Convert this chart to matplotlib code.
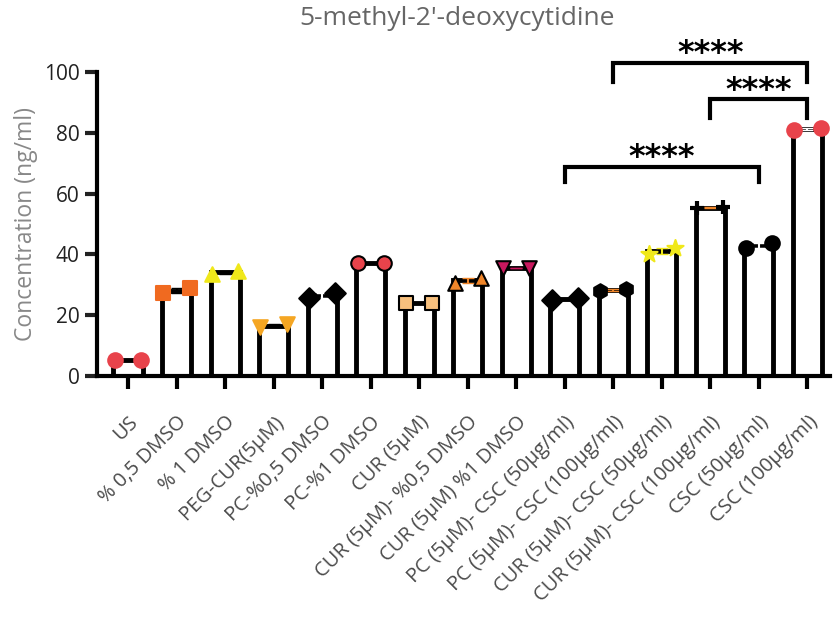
import numpy as np
import matplotlib.pyplot as plt

plt.rcParams['font.family'] = ['Open Sans', 'DejaVu Sans']

# groups and replicate measurements (ng/ml)
groups = ["US", "% 0,5 DMSO", "% 1 DMSO", "PEG-CUR(5µM)", "PC-%0,5 DMSO",
          "PC-%1 DMSO", "CUR (5µM)", "CUR (5µM)- %0,5 DMSO", "CUR (5µM) %1 DMSO",
          "PC (5µM)- CSC (50µg/ml)", "PC (5µM)- CSC (100µg/ml)",
          "CUR (5µM)- CSC (50µg/ml)", "CUR (5µM)- CSC (100µg/ml)",
          "CSC (50µg/ml)", "CSC (100µg/ml)"]
rep1 = [5.2, 27.3, 33.6, 16.2, 25.8, 37.2, 24.0, 30.6, 35.6, 25.0, 28.0, 40.0, 55.2, 42.2, 80.8]
rep2 = [5.2, 28.9, 34.6, 17.0, 27.2, 37.2, 24.0, 32.4, 35.6, 25.6, 28.6, 42.2, 55.6, 43.8, 81.6]

markers = ['o', 's', '^', 'v', 'D', 'o', 's', '^', 'v', 'D', 'h', '*', '+', 'o', 'o']
fills = ['#E8434B', '#F06A20', '#F0E81A', '#F5A623', 'black', '#E8434B', '#F7C07E',
         '#F0862A', '#C8185E', 'black', 'black', '#F0E81A', 'black', 'black', '#E8434B']
edges = ['#E8434B', '#F06A20', '#F0E81A', '#F5A623', 'black', 'black', 'black',
         'black', 'black', 'black', 'black', '#F0E81A', 'black', 'black', '#E8434B']
errc = ['black', 'black', 'black', 'black', 'white', 'black', 'black', '#F0862A',
        '#C8185E', 'black', '#F0862A', '#F0E81A', '#F0862A', 'white', 'white']

# significance brackets: (left group, right group, bar height, drop height, label y)
brackets = [(9, 13, 68.8, 63.8, 72.0), (12, 14, 91.0, 85.0, 94.0), (10, 14, 103.0, 96.7, 106.0)]

r1 = np.array(rep1)
r2 = np.array(rep2)
means = (r1 + r2) / 2
sems = np.abs(r1 - r2) / 2
x = np.arange(len(groups))

fig = plt.figure(figsize=(8.38, 6.21), dpi=100)
ax = fig.add_axes([0.1157, 0.3945, 0.875, 0.4895])

ax.bar(x, means, width=0.6, color='white', edgecolor='black', linewidth=3.5, zorder=2)
for i in x:
    ax.errorbar(i, means[i], yerr=sems[i], color=errc[i], capsize=4, lw=1.5, zorder=3)
    ax.scatter([i - 0.27, i + 0.27], [r1[i], r2[i]], marker=markers[i],
               s=150 if markers[i] == '*' else 110,
               c=fills[i], edgecolors=edges[i], linewidths=1.5 if markers[i] != '+' else 3,
               zorder=4, clip_on=False)

for a, b, top, bot, ty in brackets:
    ax.plot([a, a, b, b], [bot, top, top, bot], color='black', lw=3, clip_on=False,
            solid_joinstyle='miter')
    ax.text((a + b) / 2, ty, "****", ha='center', va='center', fontsize=23,
            fontweight='bold', family='DejaVu Sans', clip_on=False)

ax.set_xlim(-0.64, 14.47)
ax.set_ylim(0, 100)
ax.set_yticks([0, 20, 40, 60, 80, 100])
ax.set_xticks(x)
ax.set_xticklabels(groups, rotation=45, ha='right', rotation_mode='anchor',
                   fontsize=14.5, color='#4a4a4a')
ax.tick_params(axis='y', labelsize=15, width=3, length=9, colors='#222222')
ax.tick_params(axis='x', width=3, length=9, pad=17)
for s in ['top', 'right']:
    ax.spines[s].set_visible(False)
for s in ['left', 'bottom']:
    ax.spines[s].set_linewidth(3)
ax.set_ylabel("Concentration (ng/ml)", fontsize=16.5, color='#888888', labelpad=4)
fig.text(0.545, 0.970, "5-methyl-2'-deoxycytidine", fontsize=19, color='#666666',
         ha='center', va='center')

fig.savefig("out.png", dpi=100)
